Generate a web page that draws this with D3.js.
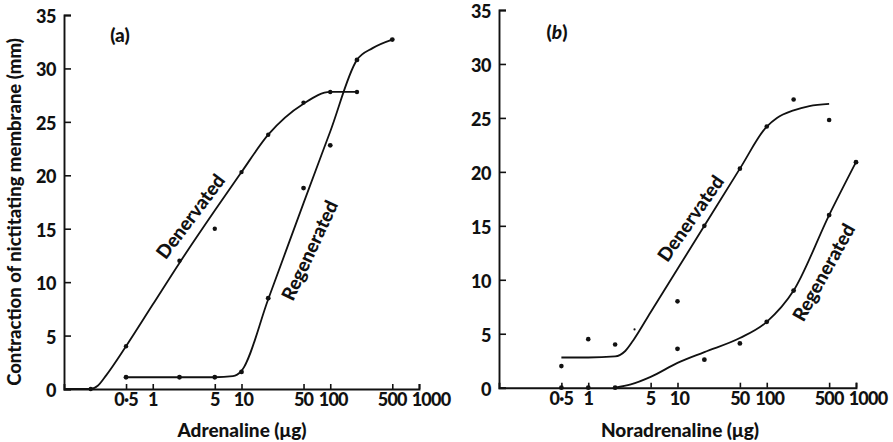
<!DOCTYPE html>
<html><head><meta charset="utf-8">
<script src="https://cdn.jsdelivr.net/npm/d3@7"></script>
<style>body{margin:0;background:#fff}svg{display:block}text{font-family:Lato,"Open Sans",sans-serif;font-weight:900;fill:#111}</style>
</head><body>
<script>
// ---- data ----
const xTicks = [0.5, 1, 5, 10, 50, 100, 500, 1000];
const xTickLabels = ["0·5", "1", "5", "10", "50", "100", "500", "1000"];
const yTicks = [0, 5, 10, 15, 20, 25, 30, 35];

// Panel (a) Adrenaline
const aDenDose = [0.2, 0.5, 2, 5, 10, 20, 50, 100, 200];
const aDenResp = [0, 4.0, 12.0, 15.0, 20.3, 23.8, 26.8, 27.8, 27.8];
const aDenCurveDose = [0.1, 0.2, 0.24, 0.3, 0.5, 1, 2, 5, 10, 20, 50, 100, 200];
const aDenCurveResp = [0, 0, 0.3, 1.3, 4.0, 7.9, 11.8, 16.7, 20.3, 23.8, 26.7, 27.8, 27.8];
const aRegDose = [0.5, 2, 5, 10, 20, 50, 100, 200, 500];
const aRegResp = [1.1, 1.1, 1.1, 1.6, 8.5, 18.8, 22.8, 30.8, 32.7];
const aRegCurveDose = [0.5, 2, 5, 8, 10, 20, 50, 100, 200, 300, 500];
const aRegCurveResp = [1.1, 1.1, 1.1, 1.2, 1.7, 8.4, 17.4, 24.1, 30.8, 31.9, 32.7];

// Panel (b) Noradrenaline
const bDenDose = [0.5, 1, 2, 10, 20, 50, 100, 200, 500];
const bDenResp = [2.0, 4.5, 4.0, 8.0, 15.0, 20.3, 24.2, 26.7, 24.8];
const bDenSmallDose = [3.3];
const bDenSmallResp = [5.4];
const bDenCurveDose = [0.5, 1, 2, 2.6, 3.2, 5, 10, 20, 50, 100, 130, 200, 300, 500];
const bDenCurveResp = [2.8, 2.8, 2.9, 3.4, 4.4, 7.0, 11.0, 15.0, 20.3, 24.2, 25.0, 25.7, 26.1, 26.3];
const bRegDose = [0.5, 1, 2, 10, 20, 50, 100, 200, 500, 1000];
const bRegResp = [0, 0, 0, 3.6, 2.6, 4.1, 6.1, 9.0, 16.0, 20.9];
const bRegCurveDose = [2, 3, 5, 10, 20, 50, 100, 200, 500, 1000];
const bRegCurveResp = [0, 0.3, 1.0, 2.3, 3.3, 4.6, 6.1, 9.0, 16.0, 20.9];

const W = 893, H = 442;
const svg = d3.select("body").append("svg").attr("width", W).attr("height", H);

function zip(a, b) { return a.map((d, i) => [d, b[i]]); }
// small horizontal nudges of tick labels, as typeset in the original
const labelNudge = {"100": 3, "1000": 12, "10": 2};

function panel(cfg) {
  const x = d3.scaleLog().domain([0.1, 1000]).range(cfg.xr);
  const y = d3.scaleLinear().domain([0, 35]).range(cfg.yr);
  const g = svg.append("g");

  const xa = g.append("g").attr("transform", `translate(0,${cfg.yr[0]})`)
    .call(d3.axisBottom(x).tickValues(xTicks).tickSize(-5).tickFormat(""));
  xa.select(".domain").attr("stroke", "#111").attr("stroke-width", 1.9);
  xa.selectAll(".tick line").attr("stroke", "#111").attr("stroke-width", 1.6);
  g.selectAll(".xlab").data(xTicks).join("text")
    .attr("x", (d, i) => x(d) + (labelNudge[xTickLabels[i]] || 0)).attr("y", cfg.yr[0] + 17)
    .attr("text-anchor", "middle").attr("font-size", 18).attr("letter-spacing", -0.8)
    .text((d, i) => xTickLabels[i]);

  const ya = g.append("g").attr("transform", `translate(${cfg.xr[0]},0)`)
    .call(d3.axisLeft(y).tickValues(yTicks).tickSize(-7).tickFormat(""));
  ya.select(".domain").attr("stroke", "#111").attr("stroke-width", 1.9);
  ya.selectAll(".tick line").attr("stroke", "#111").attr("stroke-width", 1.6);
  g.selectAll(".ylab").data(yTicks).join("text")
    .attr("x", cfg.xr[0] - 8).attr("y", d => y(d) + 8)
    .attr("text-anchor", "end").attr("font-size", 18).attr("letter-spacing", -0.5)
    .text(d => d);

  const line = d3.line().x(d => x(d[0])).y(d => y(d[1])).curve(d3.curveMonotoneX);
  cfg.curves.forEach(c => {
    g.append("path").datum(c).attr("d", line)
      .attr("fill", "none").attr("stroke", "#111").attr("stroke-width", 1.8);
  });
  cfg.points.forEach(p => {
    g.selectAll(null).data(p.pts).join("circle")
      .attr("cx", d => x(d[0])).attr("cy", d => y(d[1])).attr("r", p.r).attr("fill", "#111");
  });

  g.append("text").attr("x", cfg.xTitleX).attr("y", 437).attr("text-anchor", "middle")
    .attr("font-size", 19).text(cfg.xTitle);
  cfg.tag(g);
  cfg.labels.forEach(l => {
    g.append("text").attr("transform", `translate(${l.x},${l.y}) rotate(${l.rot})`)
      .attr("text-anchor", "middle").attr("dominant-baseline", "central")
      .attr("font-size", 19).text(l.text);
  });
}

panel({
  xr: [64, 419], yr: [389, 15],
  curves: [zip(aDenCurveDose, aDenCurveResp), zip(aRegCurveDose, aRegCurveResp)],
  points: [{pts: zip(aDenDose, aDenResp), r: 2.2}, {pts: zip(aRegDose, aRegResp), r: 2.4}],
  xTitle: "Adrenaline (μg)", xTitleX: 242,
  tag: g => g.append("text").attr("x", 120).attr("y", 42).attr("text-anchor", "middle")
    .attr("font-size", 19).text("(a)"),
  labels: [
    {text: "Denervated", x: 190, y: 216, rot: -53},
    {text: "Regenerated", x: 309, y: 250, rot: -65}
  ]
});

panel({
  xr: [499, 856], yr: [387.7, 10],
  curves: [zip(bDenCurveDose, bDenCurveResp), zip(bRegCurveDose, bRegCurveResp)],
  points: [{pts: zip(bDenDose, bDenResp), r: 2.3}, {pts: zip(bRegDose, bRegResp), r: 2.4},
           {pts: zip(bDenSmallDose, bDenSmallResp), r: 1.1}],
  xTitle: "Noradrenaline (μg)", xTitleX: 680,
  tag: g => {
    const t = g.append("text").attr("x", 557).attr("y", 39).attr("text-anchor", "middle").attr("font-size", 19);
    t.append("tspan").text("(");
    t.append("tspan").attr("font-style", "italic").text("b");
    t.append("tspan").text(")");
  },
  labels: [
    {text: "Denervated", x: 690, y: 218, rot: -55},
    {text: "Regenerated", x: 823, y: 272, rot: -61}
  ]
});

svg.append("text").attr("transform", "translate(21,212) rotate(-90)")
  .attr("text-anchor", "middle").attr("font-size", 18.5)
  .text("Contraction of nictitating membrane (mm)");
</script>
</body></html>
